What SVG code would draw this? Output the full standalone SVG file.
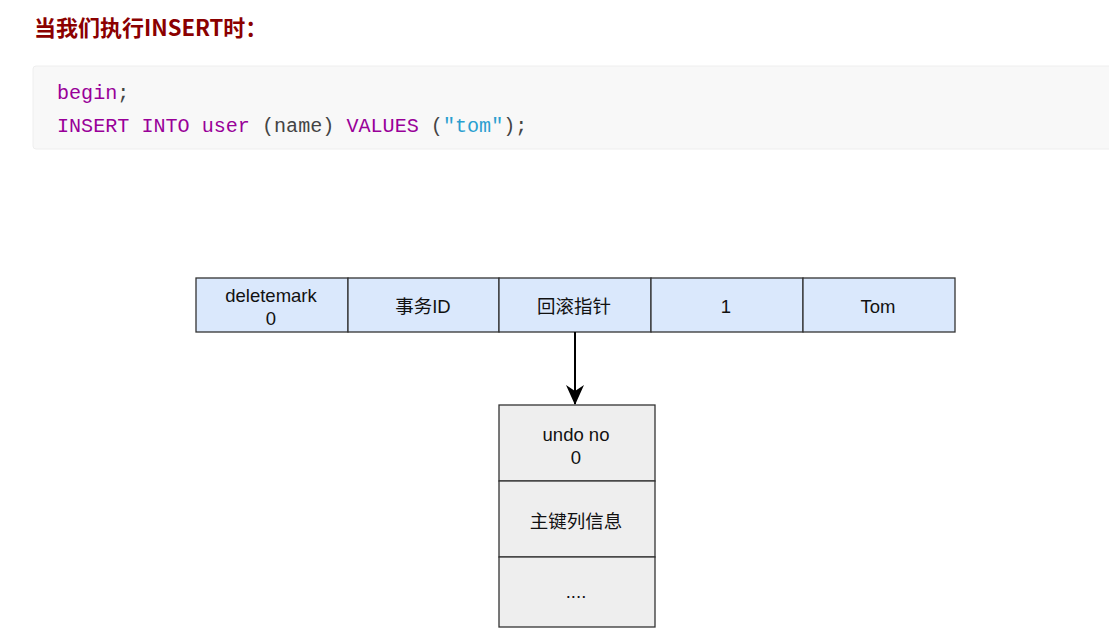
<svg xmlns="http://www.w3.org/2000/svg" width="1109" height="639" viewBox="0 0 1109 639">
<defs>
<style>
.title{font-family:"Noto Sans CJK SC","Noto Sans",sans-serif;font-weight:bold;font-size:22px;fill:#8b0000}
.code{font-family:"Liberation Mono","DejaVu Sans Mono",monospace;font-size:20.1px}
.kw{fill:#990099}
.pn{fill:#444}
.st{fill:#2a9fd0}
.cell{fill:#dae8fc;stroke:#333;stroke-width:1.3}
.ubox{fill:#eeeeee;stroke:#333;stroke-width:1.3}
.lbl{font-family:"Liberation Sans","Noto Sans CJK SC",sans-serif;font-size:18.5px;fill:#111;text-anchor:middle}
</style>
<marker id="arr" viewBox="0 0 10 10" refX="9.5" refY="5" markerWidth="20" markerHeight="18" markerUnits="userSpaceOnUse" orient="auto" preserveAspectRatio="none">
<path d="M0,0 L10,5 L0,10 L3,5 Z" fill="#000"/>
</marker>
</defs>
<rect width="1109" height="639" fill="#fff"/>
<text class="title" x="34" y="36">当我们执行INSERT时：</text>
<g id="code">
<rect x="33" y="66" width="1090" height="83" rx="3" fill="#f8f8f8" stroke="#eeeeee"/>
<text class="code" x="57" y="99"><tspan class="kw">begin</tspan><tspan class="pn">;</tspan></text>
<text class="code" x="57" y="132"><tspan class="kw">INSERT INTO user </tspan><tspan class="pn">(name) </tspan><tspan class="kw">VALUES </tspan><tspan class="pn">(</tspan><tspan class="st">"tom"</tspan><tspan class="pn">);</tspan></text>
</g>
<g id="row">
<g id="cell-deletemark"><rect class="cell" x="196" y="278" width="152" height="54"/><text class="lbl" x="271" y="302">deletemark</text><text class="lbl" x="271" y="325">0</text></g>
<g id="cell-trxid"><rect class="cell" x="348" y="278" width="151" height="54"/><text class="lbl" x="423" y="313">事务ID</text></g>
<g id="cell-rollptr"><rect class="cell" x="499" y="278" width="152" height="54"/><text class="lbl" x="574" y="313">回滚指针</text></g>
<g id="cell-1"><rect class="cell" x="651" y="278" width="152" height="54"/><text class="lbl" x="726" y="313">1</text></g>
<g id="cell-tom"><rect class="cell" x="803" y="278" width="152" height="54"/><text class="lbl" x="878" y="313">Tom</text></g>
</g>
<g id="connectors">
<line x1="575" y1="332" x2="575" y2="404" stroke="#000" stroke-width="2" marker-end="url(#arr)"/>
</g>
<g id="undo">
<g id="undo-no"><rect class="ubox" x="499" y="405" width="156" height="76"/><text class="lbl" x="576" y="441">undo no</text><text class="lbl" x="576" y="464">0</text></g>
<g id="undo-pk"><rect class="ubox" x="499" y="481" width="156" height="76"/><text class="lbl" x="576" y="528">主键列信息</text></g>
<g id="undo-more"><rect class="ubox" x="499" y="557" width="156" height="70"/><text class="lbl" x="576" y="598">....</text></g>
</g>
</svg>
